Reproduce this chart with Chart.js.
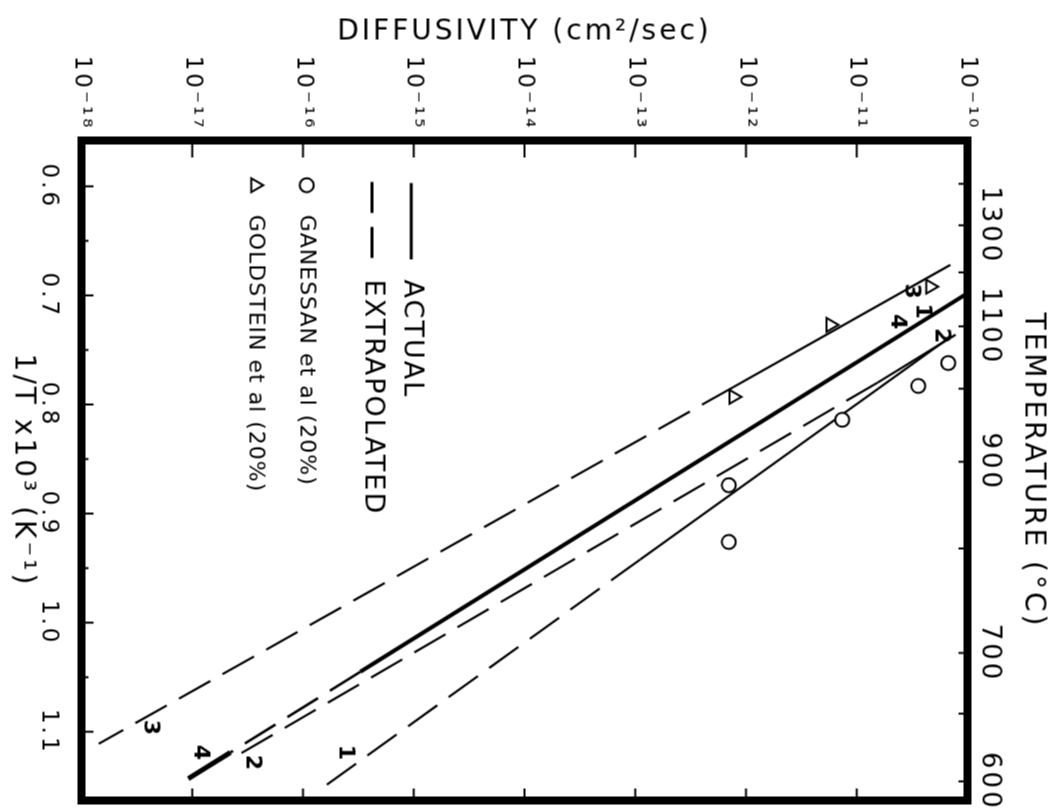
<!DOCTYPE html>
<html>
<head>
<meta charset="utf-8">
<title>Diffusivity vs 1/T</title>
<script src="https://cdn.jsdelivr.net/npm/chart.js@4"></script>
<style>
  html, body { margin: 0; padding: 0; background: #fff; overflow: hidden; }
  #page { position: relative; width: 1053px; height: 810px; overflow: hidden; }
  /* the figure is drawn upright, then turned a quarter clockwise like the print */
  #turn { position: absolute; width: 810px; height: 1053px; left: 121.5px; top: -121.5px; transform: rotate(90deg); }
</style>
</head>
<body>
<div id="page"><div id="turn"><canvas id="diffChart" width="810" height="1053"></canvas></div></div>
<script>
/* ---------- DATA ---------- */
// x: 1/T x10^3 (K^-1), y: diffusivity (cm^2/sec)
const ganessanInvT  = [0.762, 0.783, 0.814, 0.874, 0.926];
const ganessanD     = [6.7e-11, 3.6e-11, 7.4e-12, 7.0e-13, 7.0e-13];
const goldsteinInvT = [0.692, 0.727, 0.793];
const goldsteinD    = [4.6e-11, 5.8e-12, 7.7e-13];

// lines 1-4: measured (solid) part and extrapolated (dashed) part
const line1ActualInvT = [0.738, 0.942];
const line1ActualD    = [7.0e-11, 1.11e-13];
const line1ExtrapInvT = [0.942, 1.154];
const line1ExtrapD    = [1.11e-13, 1.38e-16];

const line2ActualInvT = [0.736, 0.780];
const line2ActualD    = [7.8e-11, 1.54e-11];
const line2ExtrapInvT = [0.780, 1.120];
const line2ExtrapD    = [1.54e-11, 2.73e-17];

const line3ActualInvT = [0.672, 0.784];
const line3ActualD    = [7.0e-11, 7.7e-13];
const line3ExtrapInvT = [0.784, 1.111];
const line3ExtrapD    = [7.7e-13, 1.43e-18];

const line4ActualInvT = [0.698, 1.045];
const line4ActualD    = [1.0e-10, 3.3e-16];
const line4ExtrapInvT = [1.045, 1.119];
const line4ExtrapD    = [3.3e-16, 2.21e-17];
const line4TailInvT   = [1.119, 1.143];
const line4TailD      = [2.21e-17, 9.2e-18];

// line numbers written next to the lines
const lineNames    = ['3', '4', '1', '2', '3', '4', '2', '1'];
const lineNameInvT = [0.696, 0.724, 0.7145, 0.737, 1.096, 1.119, 1.128, 1.119];
const lineNameD    = [3.1e-11, 2.3e-11, 3.9e-11, 5.8e-11, 4.2e-18, 1.19e-17, 3.5e-17, 2.4e-16];

// legend
const legendText = ['ACTUAL', 'EXTRAPOLATED', 'GANESSAN et al (20%)', 'GOLDSTEIN et al (20%)'];
const legendD    = [9.5e-16, 4.2e-16, 1.08e-16, 3.7e-17];

// axes
const invTMin = 0.558, invTMax = 1.163;
const invTLabels = [0.6, 0.7, 0.8, 0.9, 1.0, 1.1];
const invTMinor  = [0.65, 0.75, 0.85, 0.95, 1.05];
const diffExponents = [-18, -17, -16, -15, -14, -13, -12, -11, -10];
const tempTicks    = [1400, 1300, 1200, 1100, 1000, 900, 800, 700, 650, 600];
const tempLabelled = [1300, 1100, 900, 700, 600];

/* ---------- HELPERS ---------- */
const SUP = { '-': '\u207B', '0': '\u2070', '1': '\u00B9', '2': '\u00B2', '3': '\u00B3',
  '4': '\u2074', '5': '\u2075', '6': '\u2076', '7': '\u2077', '8': '\u2078', '9': '\u2079' };
const sup = n => String(n).split('').map(c => SUP[c]).join('');
const pts = (xs, ys) => xs.map((x, i) => ({ x: x, y: ys[i] }));
const FONT = 'DejaVu Sans';

function seg(xs, ys, width, dashed) {
  return {
    data: pts(xs, ys), showLine: true, borderColor: '#000', borderWidth: width,
    borderDash: dashed ? [36, 14] : [], pointRadius: 0, pointHoverRadius: 0, tension: 0
  };
}

function zeroPad(s) { s.paddingLeft = 0; s.paddingRight = 0; s.paddingTop = 0; s.paddingBottom = 0; }

/* ---------- FRAME, TICKS, LABELS, LEGEND ---------- */
const figurePlugin = {
  id: 'figure',
  beforeDraw(chart) { chart.ctx.letterSpacing = '3px'; },
  afterDatasetsDraw(chart) {
    const ctx = chart.ctx, a = chart.chartArea;
    const sx = chart.scales.x, sy = chart.scales.y, st = chart.scales.temp;
    const line = (x1, y1, x2, y2) => { ctx.beginPath(); ctx.moveTo(x1, y1); ctx.lineTo(x2, y2); ctx.stroke(); };

    ctx.save();
    ctx.strokeStyle = '#000';
    ctx.fillStyle = '#000';
    ctx.setLineDash([]);
    ctx.lineWidth = 2;

    // inward tick marks on all four sides
    diffExponents.forEach(e => {
      const y = sy.getPixelForValue(Math.pow(10, e));
      line(a.left, y, a.left + 17, y);
      line(a.right, y, a.right - 12, y);
    });
    invTLabels.forEach(v => { const x = sx.getPixelForValue(v); line(x, a.bottom, x, a.bottom - 12); });
    invTMinor.forEach(v => { const x = sx.getPixelForValue(v); line(x, a.bottom, x, a.bottom - 7); });
    st.ticks.forEach(t => { const x = st.getPixelForValue(t.value); line(x, a.top, x, a.top + 9); });

    // heavy frame
    ctx.lineWidth = 8;
    ctx.lineJoin = 'miter';
    ctx.strokeRect(a.left, a.top, a.right - a.left, a.bottom - a.top);

    // line numbers
    ctx.letterSpacing = '0px';
    ctx.font = 'bold 22px ' + FONT;
    ctx.textAlign = 'center';
    ctx.textBaseline = 'middle';
    lineNames.forEach((n, i) => {
      ctx.fillText(n, sx.getPixelForValue(lineNameInvT[i]), sy.getPixelForValue(lineNameD[i]));
    });

    // legend
    ctx.textAlign = 'left';
    const y0 = sy.getPixelForValue(legendD[0]);
    const y1 = sy.getPixelForValue(legendD[1]);
    const y2 = sy.getPixelForValue(legendD[2]);
    const y3 = sy.getPixelForValue(legendD[3]);
    ctx.lineWidth = 3;
    line(sx.getPixelForValue(0.597), y0, sx.getPixelForValue(0.667), y0);
    ctx.setLineDash([31, 14]);
    line(sx.getPixelForValue(0.596), y1, sx.getPixelForValue(0.667), y1);
    ctx.setLineDash([]);

    ctx.font = '27px ' + FONT;
    ctx.letterSpacing = '2px';
    ctx.fillText(legendText[0], sx.getPixelForValue(0.6855), y0);
    ctx.fillText(legendText[1], sx.getPixelForValue(0.6855), y1);

    ctx.lineWidth = 2;
    ctx.fillStyle = '#fff';
    Chart.helpers.drawPoint(ctx, { pointStyle: 'circle', radius: 7, borderWidth: 2 }, sx.getPixelForValue(0.599), y2);
    Chart.helpers.drawPoint(ctx, { pointStyle: 'triangle', radius: 8, borderWidth: 2 }, sx.getPixelForValue(0.599), y3);
    ctx.fillStyle = '#000';
    ctx.font = '22px ' + FONT;
    ctx.letterSpacing = '1px';
    ctx.fillText(legendText[2], sx.getPixelForValue(0.626), y2);
    ctx.fillText(legendText[3], sx.getPixelForValue(0.626), y3);

    ctx.restore();
  }
};

/* ---------- CHART ---------- */
const titleFont = { family: FONT, size: 28 };
const tickFont = { family: FONT, size: 23 };

new Chart(document.getElementById('diffChart'), {
  type: 'scatter',
  data: {
    datasets: [
      { data: pts(ganessanInvT, ganessanD), pointStyle: 'circle', pointRadius: 7, borderWidth: 2,
        borderColor: '#000', backgroundColor: '#fff' },
      { data: pts(goldsteinInvT, goldsteinD), pointStyle: 'triangle', pointRadius: 8, borderWidth: 2,
        borderColor: '#000', backgroundColor: '#fff' },
      seg(line1ActualInvT, line1ActualD, 2.2, false),
      seg(line1ExtrapInvT, line1ExtrapD, 2.2, true),
      seg(line2ActualInvT, line2ActualD, 2.2, false),
      seg(line2ExtrapInvT, line2ExtrapD, 2.2, true),
      seg(line3ActualInvT, line3ActualD, 2.2, false),
      seg(line3ExtrapInvT, line3ExtrapD, 2.2, true),
      seg(line4ActualInvT, line4ActualD, 4, false),
      seg(line4ExtrapInvT, line4ExtrapD, 2.6, true),
      seg(line4TailInvT, line4TailD, 5, false)
    ]
  },
  options: {
    responsive: false,
    animation: false,
    devicePixelRatio: 1,
    layout: { padding: { left: 0, right: 5, top: 0, bottom: 0 } },
    plugins: { legend: { display: false }, tooltip: { enabled: false } },
    scales: {
      x: {
        type: 'linear', position: 'bottom', min: invTMin, max: invTMax,
        afterBuildTicks: s => { s.ticks = invTLabels.map(v => ({ value: v })); },
        afterFit: s => { s.height = 81; zeroPad(s); },
        grid: { display: false, drawTicks: false },
        border: { display: false },
        ticks: { color: '#000', font: tickFont, padding: 19, autoSkip: false, maxRotation: 0,
          callback: v => v.toFixed(1) },
        title: { display: true, text: '1/T x10\u00B3 (K\u207B\u00B9)', color: '#000', font: titleFont,
          padding: { top: 0, bottom: 5 } }
      },
      temp: {
        type: 'linear', position: 'top', min: invTMin, max: invTMax,
        afterBuildTicks: s => { s.ticks = tempTicks.map(t => ({ value: 1000 / (t + 273) })); },
        afterFit: s => { s.height = 86; zeroPad(s); },
        grid: { display: false, drawTicks: false },
        border: { display: false },
        ticks: { color: '#000', font: { family: FONT, size: 26 }, padding: 6, autoSkip: false, maxRotation: 0,
          callback: (v, i) => tempLabelled.includes(tempTicks[i]) ? String(tempTicks[i]) : '' },
        title: { display: true, text: 'TEMPERATURE (\u00B0C)', color: '#000', font: titleFont,
          padding: { top: 4, bottom: 0 } }
      },
      y: {
        type: 'logarithmic', position: 'left', min: 1e-18, max: 1e-10,
        afterBuildTicks: s => { s.ticks = diffExponents.map(e => ({ value: Math.pow(10, e) })); },
        afterFit: s => { s.width = 140; zeroPad(s); },
        grid: { display: false, drawTicks: false },
        border: { display: false },
        ticks: { color: '#000', font: tickFont, padding: 10, autoSkip: false,
          callback: (v, i) => '10' + sup(diffExponents[i]) },
        title: { display: true, text: 'DIFFUSIVITY (cm\u00B2/sec)', color: '#000', font: titleFont,
          padding: { top: 15, bottom: 0 } }
      }
    }
  },
  plugins: [figurePlugin]
});
</script>
</body>
</html>
